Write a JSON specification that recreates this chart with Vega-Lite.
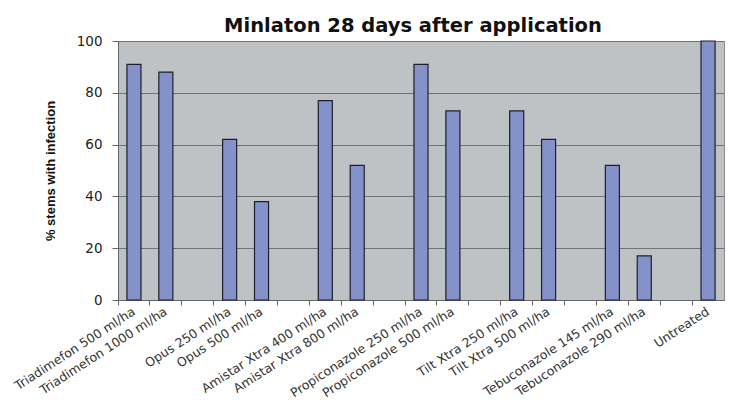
{
  "$schema": "https://vega.github.io/schema/vega-lite/v6.json",
  "autosize": "none",
  "width": 606,
  "height": 259,
  "padding": {"left": 118, "top": 41, "right": 6, "bottom": 102},
  "background": "#ffffff",
  "title": {
    "text": "Minlaton 28 days after application",
    "font": "DejaVu Sans",
    "fontSize": 19.5,
    "fontWeight": "bold",
    "color": "#111111",
    "anchor": "middle",
    "offset": 0,
    "dx": -8,
    "dy": 2
  },
  "config": {
    "view": {"fill": "#bec2c5", "stroke": "#8a8d90", "strokeWidth": 1}
  },
  "data": {
    "values": [
      {"treatment": "Triadimefon 500 ml/ha", "pct": 91},
      {"treatment": "Triadimefon 1000 ml/ha", "pct": 88},
      {"treatment": "Opus 250 ml/ha", "pct": 62},
      {"treatment": "Opus 500 ml/ha", "pct": 38},
      {"treatment": "Amistar Xtra 400 ml/ha", "pct": 77},
      {"treatment": "Amistar Xtra 800 ml/ha", "pct": 52},
      {"treatment": "Propiconazole 250 ml/ha", "pct": 91},
      {"treatment": "Propiconazole 500 ml/ha", "pct": 73},
      {"treatment": "Tilt Xtra 250 ml/ha", "pct": 73},
      {"treatment": "Tilt Xtra 500 ml/ha", "pct": 62},
      {"treatment": "Tebuconazole 145 ml/ha", "pct": 52},
      {"treatment": "Tebuconazole 290 ml/ha", "pct": 17},
      {"treatment": "Untreated", "pct": 100}
    ]
  },
  "mark": {"type": "bar", "fill": "#8591c9", "stroke": "#1c1f2e", "strokeWidth": 1.2},
  "encoding": {
    "x": {
      "field": "treatment",
      "type": "nominal",
      "scale": {
        "domain": [
          "Triadimefon 500 ml/ha", "Triadimefon 1000 ml/ha", " ",
          "Opus 250 ml/ha", "Opus 500 ml/ha", "  ",
          "Amistar Xtra 400 ml/ha", "Amistar Xtra 800 ml/ha", "   ",
          "Propiconazole 250 ml/ha", "Propiconazole 500 ml/ha", "    ",
          "Tilt Xtra 250 ml/ha", "Tilt Xtra 500 ml/ha", "     ",
          "Tebuconazole 145 ml/ha", "Tebuconazole 290 ml/ha", "      ",
          "Untreated"
        ],
        "paddingInner": 0.56,
        "paddingOuter": 0.28
      },
      "axis": {
        "title": null,
        "bandPosition": -0.636,
        "labelOffset": 0,
        "labelAngle": -33,
        "labelAlign": "right",
        "labelBaseline": "middle",
        "labelFont": "DejaVu Sans",
        "labelFontSize": 12.5,
        "labelColor": "#333333",
        "labelPadding": 5,
        "labelLimit": 300,
        "tickSize": 5,
        "tickColor": "#666666",
        "domainColor": "#666666",
        "grid": false
      }
    },
    "y": {
      "field": "pct",
      "type": "quantitative",
      "scale": {"domain": [0, 100], "nice": false},
      "axis": {
        "title": "% stems with infection",
        "titleFont": "Liberation Sans",
        "titleFontSize": 13,
        "titleFontWeight": "bold",
        "titleColor": "#111111",
        "titlePadding": 19,
        "values": [0, 20, 40, 60, 80, 100],
        "labelFont": "DejaVu Sans",
        "labelFontSize": 13.5,
        "labelColor": "#222222",
        "labelPadding": 10,
        "tickSize": 6,
        "tickColor": "#666666",
        "domainColor": "#666666",
        "grid": true,
        "gridColor": "#6f7377",
        "gridWidth": 1
      }
    }
  }
}
